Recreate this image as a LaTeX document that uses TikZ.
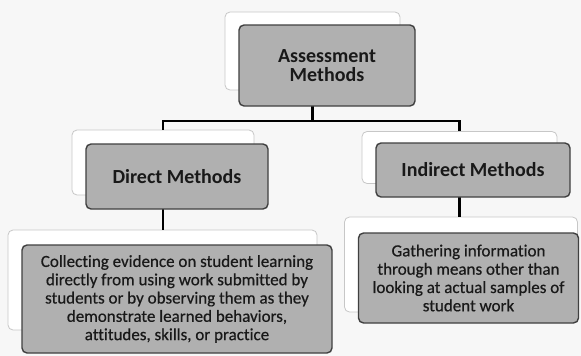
\documentclass[tikz,border=0pt]{standalone}
\usepackage{fontspec}
\setmainfont[Ligatures=NoCommon]{Carlito}
\newfontfamily\bodyfont[FakeBold=0.5,Ligatures=NoCommon]{Carlito}
\begin{document}
\begin{tikzpicture}[x=1pt,y=-1pt,
  backbox/.style={draw=black!22, fill=white, line width=0.8pt, rounded corners=5pt, inner sep=0pt},
  frontbox/.style={draw=black!75, fill=black!31, line width=1.4pt, rounded corners=5pt, inner sep=0pt, text=black!90, align=center},
  link/.style={line width=2.6pt, black}]
\fill[black!3] (0,0) rectangle (581,356);
\useasboundingbox (0,0) rectangle (581,356);
% back boxes
\node[backbox, minimum width=175pt, minimum height=78pt] (topb) at (312.5,51) {};
\node[backbox, minimum width=182pt, minimum height=65pt] (dirb) at (163,162.5) {};
\node[backbox, minimum width=195pt, minimum height=52pt] (indb) at (459.5,157.5) {};
\node[backbox, minimum width=309pt, minimum height=100pt] (blb) at (162.5,280) {};
\node[backbox, minimum width=233pt, minimum height=95pt] (brb) at (461,264.5) {};
% connectors
\coordinate (bus) at (313,121);
\draw[link] (topb.south) -- (topb.south |- bus);
\draw[link] (dirb.north) |- (bus) -| (indb.north);
\draw[link] (dirb.south) -- (dirb.south |- blb.north);
\draw[link] (indb.south) -- (indb.south |- brb.north);
% front boxes
\node[frontbox, minimum width=176pt, minimum height=81pt, font=\bfseries\fontsize{20}{19.5}\selectfont] (top) at (327,65.5) {Assessment\\Methods};
\node[frontbox, minimum width=182pt, minimum height=65pt, font=\bfseries\fontsize{20}{20}\selectfont] (dir) at (177,176.5) {Direct Methods};
\node[frontbox, minimum width=194pt, minimum height=54pt, font=\bfseries\fontsize{20}{20}\selectfont] (ind) at (473,170) {Indirect Methods};
\node[frontbox, minimum width=310pt, minimum height=108pt, font=\bodyfont\fontsize{17}{18.3}\selectfont] (bl) at (177,299) {Collecting evidence on student learning\\directly from using work submitted by\\students or by observing them as they\\demonstrate learned behaviors,\\attitudes, skills, or practice};
\node[frontbox, minimum width=220pt, minimum height=90pt, font=\bodyfont\fontsize{17}{18.3}\selectfont] (br) at (468.5,278) {Gathering information\\through means other than\\looking at actual samples of\\student work};
\end{tikzpicture}
\end{document}
